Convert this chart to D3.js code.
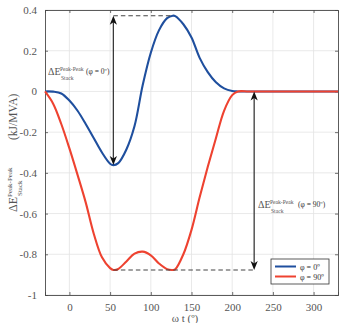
<!DOCTYPE html>
<html><head><meta charset="utf-8">
<script src="https://cdn.jsdelivr.net/npm/d3@7/dist/d3.min.js"></script>
<style>
html,body{margin:0;padding:0;background:#fff;}
svg{display:block;}
text{font-family:"Liberation Serif","DejaVu Serif",serif;}
</style></head>
<body><svg id="c" width="342" height="323"></svg>
<script>
// ---- data ----
const angles = [-30,-20,-10,0,10,20,30,40,50,54,60,70,80,90,100,110,120,127,130,140,150,160,170,180,190,200,207,220,240,260,280,300,320,330];
const phi0  = [0,-0.001,-0.01,-0.045,-0.095,-0.16,-0.23,-0.30,-0.355,-0.362,-0.352,-0.285,-0.17,0.03,0.19,0.30,0.36,0.372,0.37,0.33,0.265,0.165,0.095,0.045,0.015,0.002,0,0,0,0,0,0,0,0];
const phi90 = [0,-0.06,-0.16,-0.28,-0.41,-0.545,-0.70,-0.815,-0.868,-0.877,-0.872,-0.835,-0.797,-0.787,-0.805,-0.845,-0.873,-0.877,-0.874,-0.80,-0.68,-0.52,-0.37,-0.23,-0.095,-0.018,0,0,0,0,0,0,0,0];
const seriesNames = ["\u03c6 = 0\u00ba","\u03c6 = 90\u00ba"];
const xTicks = [0,50,100,150,200,250,300];
const yTicks = [-1,-0.8,-0.6,-0.4,-0.2,0,0.2,0.4];
const yTickLabels = ["-1","-0.8","-0.6","-0.4","-0.2","0","0.2","0.4"];
const arrowAngles = [54,227]; // x positions of the annotation arrows
const annotLabels = ["(\u03c6 = 0\u00ba)","(\u03c6 = 90\u00ba)"];

const colors = ["#1f4f9e","#ee4230"];
const svg = d3.select("#c");
const L=45,T=10,R=338,B=295;
const x = d3.scaleLinear().domain([-30,330]).range([L,R]);
const y = d3.scaleLinear().domain([-1,0.4]).range([B,T]);

// grid
svg.append("g").selectAll("line").data(xTicks).join("line")
  .attr("x1",d=>x(d)).attr("x2",d=>x(d)).attr("y1",T).attr("y2",B)
  .attr("stroke","#e3e3e3").attr("stroke-width",0.8);
svg.append("g").selectAll("line").data(yTicks).join("line")
  .attr("y1",d=>y(d)).attr("y2",d=>y(d)).attr("x1",L).attr("x2",R)
  .attr("stroke","#e3e3e3").attr("stroke-width",0.8);

// axes (ticks inward, box)
const axCol="#4a4a4a";
const gx = svg.append("g").attr("transform",`translate(0,${B})`)
  .call(d3.axisBottom(x).tickValues(xTicks).tickSize(-3).tickPadding(8).tickFormat(d3.format("d")));
const gxt = svg.append("g").attr("transform",`translate(0,${T})`)
  .call(d3.axisTop(x).tickValues(xTicks).tickSize(-3).tickFormat(""));
const gy = svg.append("g").attr("transform",`translate(${L},0)`)
  .call(d3.axisLeft(y).tickValues(yTicks).tickSize(-3).tickPadding(8).tickFormat((d,i)=>yTickLabels[i]));
const gyr = svg.append("g").attr("transform",`translate(${R},0)`)
  .call(d3.axisRight(y).tickValues(yTicks).tickSize(-3).tickFormat(""));
[gx,gxt,gy,gyr].forEach(g=>{
  g.select(".domain").attr("stroke",axCol).attr("stroke-width",0.9);
  g.selectAll(".tick line").attr("stroke",axCol).attr("stroke-width",0.8);
  g.selectAll("text").attr("fill","#555").style("font-size","11px").style("font-family","'Liberation Serif',serif");
});

// lines
const line = d3.line().x((d,i)=>x(angles[i])).y(d=>y(d)).curve(d3.curveCatmullRom.alpha(0.5));
[phi0,phi90].forEach((s,k)=>{
  svg.append("path").attr("d",line(s)).attr("fill","none")
    .attr("stroke",colors[k]).attr("stroke-width",2.1).attr("stroke-linejoin","round");
});

// annotations
const imin0 = d3.minIndex(phi0), imax0 = d3.maxIndex(phi0), imin90 = d3.minIndex(phi90);
const dash = (x1,x2,yy)=>svg.append("line").attr("x1",x1).attr("x2",x2).attr("y1",yy).attr("y2",yy)
  .attr("stroke","#444").attr("stroke-width",1.1).attr("stroke-dasharray","4.5,3");
dash(x(arrowAngles[0]), x(angles[imax0]), y(phi0[imax0]));
dash(x(arrowAngles[0]), x(arrowAngles[1]), y(phi90[imin90]));

function dArrow(xx,y1,y2){ // y1 top, y2 bottom
  const hl=9, hw=3.6, back=2.5;
  svg.append("line").attr("x1",xx).attr("x2",xx).attr("y1",y1+4).attr("y2",y2-4)
    .attr("stroke","#3a3a3a").attr("stroke-width",1.3);
  svg.append("path").attr("d",`M${xx},${y1} L${xx+hw},${y1+hl} L${xx},${y1+hl-back} L${xx-hw},${y1+hl} Z`).attr("fill","#111");
  svg.append("path").attr("d",`M${xx},${y2} L${xx+hw},${y2-hl} L${xx},${y2-hl+back} L${xx-hw},${y2-hl} Z`).attr("fill","#111");
}
dArrow(x(arrowAngles[0]), y(phi0[imax0]), y(phi0[imin0]));
dArrow(x(arrowAngles[1]), y(0), y(phi90[imin90]));

function deltaLabel(g, fs, ss){
  g.append("text").attr("x",0).attr("y",0).style("font-size",fs+"px").attr("fill","#555").text("\u0394E");
  g.append("text").attr("x",fs*1.2).attr("y",-fs*0.45).style("font-size",ss+"px").attr("fill","#555").text("Peak-Peak");
  g.append("text").attr("x",fs*1.3).attr("y",fs*0.45).style("font-size",ss+"px").attr("fill","#555").text("Stack");
}
const a1 = svg.append("g").attr("transform","translate(48,75)");
deltaLabel(a1,10,5.6);
a1.append("text").attr("x",38).attr("y",-1).style("font-size","7.5px").attr("fill","#333").text(annotLabels[0]);
const a2 = svg.append("g").attr("transform","translate(258,208)");
deltaLabel(a2,10,5.6);
a2.append("text").attr("x",40).attr("y",-1).style("font-size","7.5px").attr("fill","#333").text(annotLabels[1]);

// y label
const yl = svg.append("g").attr("transform","translate(17,212) rotate(-90)");
yl.append("text").attr("x",0).attr("y",0).style("font-size","12px").attr("fill","#555").text("\u0394E");
yl.append("text").attr("x",15).attr("y",-5).style("font-size","7px").attr("fill","#555").text("Peak-Peak");
yl.append("text").attr("x",16).attr("y",5).style("font-size","7px").attr("fill","#555").text("Stack");
yl.append("text").attr("x",72).attr("y",0).style("font-size","11.5px").attr("fill","#555").text("(kJ/MVA)");

// x label
svg.append("text").attr("x",185).attr("y",322).attr("text-anchor","middle").style("font-size","11px").attr("fill","#555").text("\u03c9 t (\u00ba)");

// legend
const lg = svg.append("g");
lg.append("rect").attr("x",271).attr("y",259).attr("width",58).attr("height",25).attr("fill","#fff").attr("stroke","#333").attr("stroke-width",0.8);
seriesNames.forEach((n,k)=>{
  const yy = 266.5+k*10;
  lg.append("line").attr("x1",275).attr("x2",296).attr("y1",yy).attr("y2",yy).attr("stroke",colors[k]).attr("stroke-width",2);
  lg.append("text").attr("x",300).attr("y",yy+3).style("font-size","8px").attr("fill","#333").text(n);
});
</script></body></html>
